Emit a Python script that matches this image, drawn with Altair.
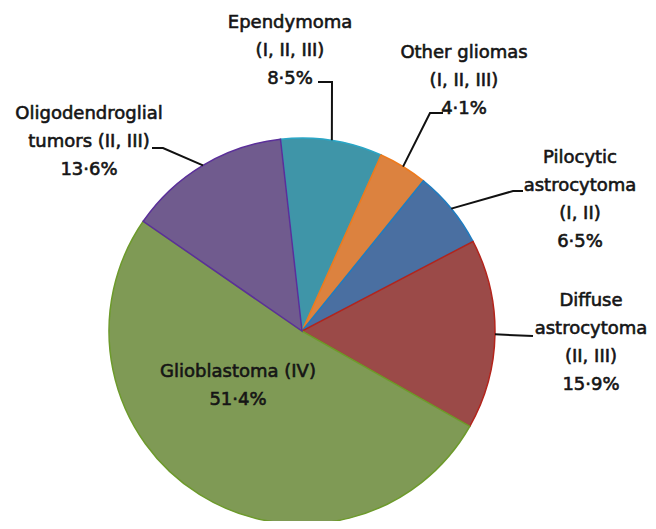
import math
import altair as alt
import pandas as pd

# ---- data ----
categories = ["Ependymoma", "Other gliomas", "Pilocytic astrocytoma",
              "Diffuse astrocytoma", "Glioblastoma", "Oligodendroglial tumors"]
values = [8.5, 4.1, 6.5, 15.9, 51.4, 13.6]
label_lines = [
    ["Ependymoma", "(I, II, III)"],
    ["Other gliomas", "(I, II, III)"],
    ["Pilocytic", "astrocytoma", "(I, II)"],
    ["Diffuse", "astrocytoma", "(II, III)"],
    ["Glioblastoma (IV)"],
    ["Oligodendroglial", "tumors (II, III)"],
]

# ---- style / layout ----
fills = ["#3f95a8", "#dc823f", "#4a6fa1", "#9b4a48", "#7f9a55", "#705b8e"]
strokes = ["#2aa6c6", "#ee7a1c", "#1f7cc0", "#b3241c", "#6d9a2c", "#5b2f9a"]
W, H = 640, 513
CX, CY, R = 294, 323, 193
START = math.radians(-6.4)
FONT = "DejaVu Sans"
FS = 18
LH = 28

# first-line anchor of each label block (pixels) and leader end points
label_pos = [(282, 15), (456, 45), (572, 150), (583, 293), (230, 364), (81, 106)]
leader_ends = [
    [(324, 74), (310, 74)],
    [(422, 105), (435, 105)],
    [(505, 183), (515, 183)],
    [(525, 328)],
    None,
    [(155, 140), (144, 140)],
]

df = pd.DataFrame({"category": categories, "value": values,
                   "order": list(range(len(categories)))})

pie = alt.Chart(df).mark_arc(radius=R, strokeWidth=1.5).encode(
    theta=alt.Theta("value:Q", stack=True,
                    scale=alt.Scale(range=[START, START + 2 * math.pi])),
    color=alt.Color("category:N", scale=alt.Scale(domain=categories, range=fills), legend=None),
    stroke=alt.Stroke("category:N", scale=alt.Scale(domain=categories, range=strokes), legend=None),
    order=alt.Order("order:Q"),
    x=alt.value(CX), y=alt.value(CY),
)

# text
total = sum(values)
txt_rows = []
for i, (lines, v) in enumerate(zip(label_lines, values)):
    pct = f"{v:.1f}".replace(".", "·") + "%"
    txt_rows.append({"text": lines + [pct], "x": label_pos[i][0], "y": label_pos[i][1]})
tdf = pd.DataFrame(txt_rows)
labels = alt.Chart(tdf).mark_text(
    font=FONT, fontSize=FS, fontWeight="normal", color="#151515",
    stroke="#151515", strokeWidth=0.6,
    align="center", baseline="middle", lineHeight=LH,
).encode(
    x=alt.X("x:Q", scale=None, axis=None),
    y=alt.Y("y:Q", scale=None, axis=None),
    text="text",
)

# leader lines: start at slice mid-angle on the rim
line_rows = []
cum = 0.0
for i, v in enumerate(values):
    mid = START + 2 * math.pi * (cum + v / 2) / total
    cum += v
    if leader_ends[i] is None:
        continue
    pts = [(CX + R * math.sin(mid), CY - R * math.cos(mid))] + leader_ends[i]
    for k, (px, py) in enumerate(pts):
        line_rows.append({"id": i, "k": k, "x": px, "y": py})
ldf = pd.DataFrame(line_rows)
leaders = alt.Chart(ldf).mark_line(color="#111111", strokeWidth=2).encode(
    x=alt.X("x:Q", scale=None, axis=None),
    y=alt.Y("y:Q", scale=None, axis=None),
    detail="id:N",
    order="k:Q",
)

chart = alt.layer(pie, leaders, labels).properties(
    width=W, height=H, padding=0, autosize="none"
).configure_view(stroke=None)

chart.save("out.html", embed_options={"renderer": "svg", "actions": False})
